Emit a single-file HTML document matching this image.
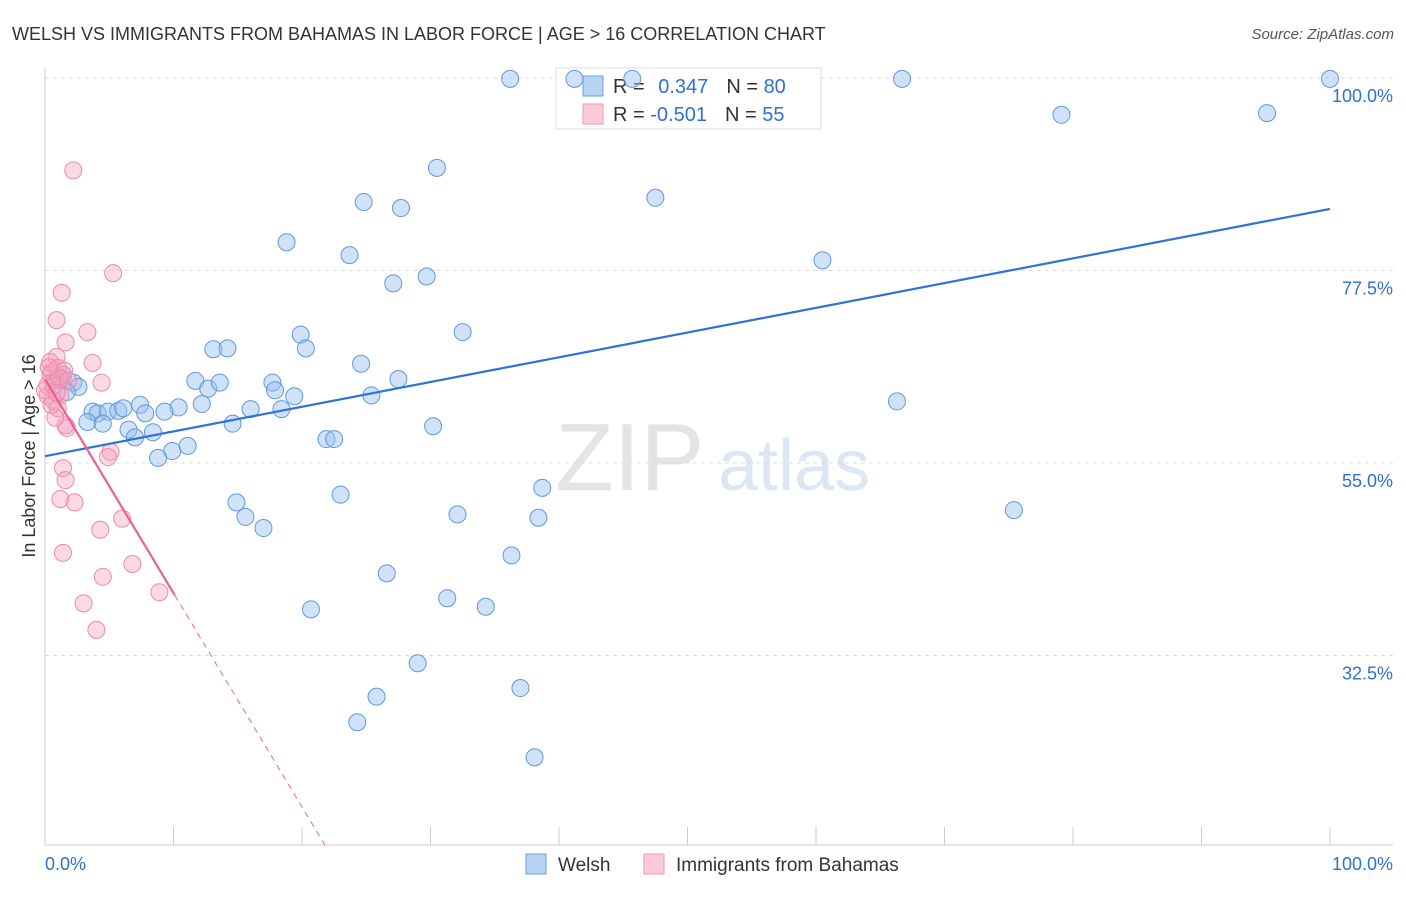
<!DOCTYPE html>
<html><head><meta charset="utf-8"><style>
body{margin:0;background:#fff;font-family:"Liberation Sans",sans-serif;}
svg text{font-family:"Liberation Sans",sans-serif;}
</style></head><body>
<svg id="c" width="1406" height="892" xmlns="http://www.w3.org/2000/svg">
<text x="12" y="40" font-size="18" fill="#333">WELSH VS IMMIGRANTS FROM BAHAMAS IN LABOR FORCE | AGE &gt; 16 CORRELATION CHART</text>
<text x="1394" y="39" font-size="15" fill="#555" font-style="italic" text-anchor="end">Source: ZipAtlas.com</text>
<text x="35" y="456" font-size="18" fill="#333" text-anchor="middle" transform="rotate(-90 35 456)">In Labor Force | Age &gt; 16</text>
<text x="555" y="490" font-size="96" fill="#e4e4e4" font-family="Liberation Serif">ZIP</text>
<text x="718" y="490" font-size="72" fill="#dce6f4">atlas</text>
<g id="grid"></g><g id="axes"></g>
<g>
<rect x="556" y="68" width="265" height="61" fill="#fff" stroke="#ddd"/>
<rect x="583" y="76" width="20" height="20" fill="#b8d4f5" stroke="#6a9fe0"/>
<rect x="583" y="104" width="20" height="20" fill="#fbcbd9" stroke="#ee9ab3"/>
<text x="613" y="93" font-size="20" fill="#333">R = <tspan fill="#2f6fd6" dx="8">0.347</tspan><tspan dx="18">N = </tspan><tspan fill="#2f6fd6">80</tspan></text>
<text x="613" y="121" font-size="20" fill="#333">R = <tspan fill="#2f6fd6">-0.501</tspan><tspan dx="18">N = </tspan><tspan fill="#2f6fd6">55</tspan></text>
</g>
<g id="pts"></g><g id="trend"></g>
<g>
<rect x="526" y="854" width="20" height="20" fill="#b8d4f5" stroke="#6a9fe0"/>
<text x="558" y="871" font-size="19" fill="#333">Welsh</text>
<rect x="644" y="854" width="20" height="20" fill="#fbcbd9" stroke="#ee9ab3"/>
<text x="676" y="871" font-size="19" fill="#333">Immigrants from Bahamas</text>
</g>
</svg>
<script>
const welshX=[36.2,41.2,45.7,66.7,100,79.1,95.1,30.5,47.5,24.8,27.7,18.8,23.7,60.5,29.7,27.1,19.9,32.5,13.1,14.2,20.3,24.6,27.5,11.7,12.7,13.6,17.7,17.9,19.4,25.4,66.3,2.2,2.6,1.7,7.4,10.4,12.2,16.0,18.4,3.7,4.1,4.9,5.7,6.1,7.8,9.3,3.3,4.5,14.6,6.5,8.4,7.0,30.2,21.9,22.5,11.1,9.9,8.8,38.7,23.0,14.9,15.6,17.0,32.1,38.4,75.4,36.3,26.6,31.3,20.7,34.3,29.0,25.8,37.0,24.3,38.1,1.2,1.4];
const welshY=[99.9,99.9,99.9,99.9,99.9,95.7,95.9,89.5,86.0,85.5,84.8,80.8,79.3,78.7,76.8,76.0,70.0,70.3,68.3,68.4,68.4,66.6,64.8,64.6,63.7,64.4,64.4,63.5,62.8,62.9,62.2,64.4,63.9,63.3,61.8,61.5,61.9,61.3,61.3,61.0,60.8,61.0,61.1,61.4,60.8,61.0,59.8,59.6,59.6,58.9,58.6,58.0,59.3,57.8,57.8,57.0,56.4,55.6,52.1,51.3,50.4,48.7,47.4,49.0,48.6,49.5,44.2,42.1,39.2,37.9,38.2,31.6,27.7,28.7,24.7,20.6,64.7,65.3];
const bahX=[2.2,5.3,1.3,0.9,3.3,1.6,0.9,3.7,4.4,0.4,0.5,0.8,0.2,1.2,0.6,1.0,1.7,1.6,0.8,1.4,1.6,5.1,4.9,1.2,2.3,6.0,4.3,1.4,6.8,4.5,8.9,3.0,4.0,0.4,1.0,1.3,0.2,0.5,0,1.5,0.7,1.1,0.3,1.8,0.9];
const bahY=[89.2,77.2,74.9,71.7,70.3,69.1,67.4,66.7,64.4,66.8,65.6,64.7,64.1,62.9,62.4,61.4,59.1,59.4,60.3,54.4,53.0,56.3,55.7,50.8,50.4,48.5,47.2,44.5,43.2,41.7,39.9,38.6,35.5,65.3,66.1,64.9,62.9,61.8,63.5,65.8,64.0,65.0,66.2,64.6,63.2];
const yTicks=[100,77.5,55,32.5];
const yTickLabels=["100.0%","77.5%","55.0%","32.5%"];
const welshTrend=[55.8,84.7];
const bahTrend=[64.8,-2.5];
const bahSolidEnd=10.1, bahDashEnd=21.8;
const NS="http://www.w3.org/2000/svg";
const X=v=>45+v*12.85, Y=v=>78+(100-v)*8.556;
function mk(t,a,p){const e=document.createElementNS(NS,t);for(const k in a)e.setAttribute(k,a[k]);p.appendChild(e);return e;}
const grid=document.getElementById('grid'),axes=document.getElementById('axes');
yTicks.forEach((t,i)=>{
 const l=mk('line',{x1:45,x2:1393,y1:Y(t),y2:Y(t),stroke:'#dcdcdc','stroke-dasharray':'4 4'},grid);
 
 
 const tx=mk('text',{x:1393,y:Y(t)+24,'font-size':18,fill:'#2f6fd6','text-anchor':'end'},grid);
 tx.textContent=yTickLabels[i];
 
 
});
mk('line',{x1:45,x2:45,y1:68,y2:845,stroke:'#ccc'},axes);
mk('line',{x1:45,x2:1393,y1:845,y2:845,stroke:'#ccc'},axes);
for(let i=1;i<=10;i++){const t=mk('line',{x1:X(i*10),x2:X(i*10),y1:827,y2:845,stroke:'#ccc'},axes);
 
 }
const x0=mk('text',{x:45,y:870,'font-size':18,fill:'#2f6fd6'},axes);x0.textContent='0.0%';


const x1=mk('text',{x:1393,y:870,'font-size':18,fill:'#2f6fd6','text-anchor':'end'},axes);x1.textContent='100.0%';


const pts=document.getElementById('pts');
welshX.forEach((v,i)=>{const c=mk('circle',{cx:X(v),cy:Y(welshY[i]),r:8.5,fill:'rgba(150,190,240,0.45)',stroke:'#5f98e0','stroke-width':1},pts);
 
 });
bahX.forEach((v,i)=>{const c=mk('circle',{cx:X(v),cy:Y(bahY[i]),r:8.5,fill:'rgba(245,160,190,0.4)',stroke:'#ec8aaa','stroke-width':1},pts);
 
 });
const tr=document.getElementById('trend');
const wl=mk('line',{x1:X(0),y1:Y(welshTrend[0]),x2:X(100),y2:Y(welshTrend[1]),stroke:'#2f72d8','stroke-width':2.2},tr);


const bf=v=>bahTrend[0]+bahTrend[1]*v;
const bl=mk('line',{x1:X(0),y1:Y(bf(0)),x2:X(bahSolidEnd),y2:Y(bf(bahSolidEnd)),stroke:'#e8628f','stroke-width':2.2},tr);


const bd=mk('line',{x1:X(bahSolidEnd),y1:Y(bf(bahSolidEnd)),x2:X(bahDashEnd),y2:Y(bf(bahDashEnd)),stroke:'#e8628f','stroke-width':1,'stroke-dasharray':'6 5'},tr);


</script>
</body></html>
